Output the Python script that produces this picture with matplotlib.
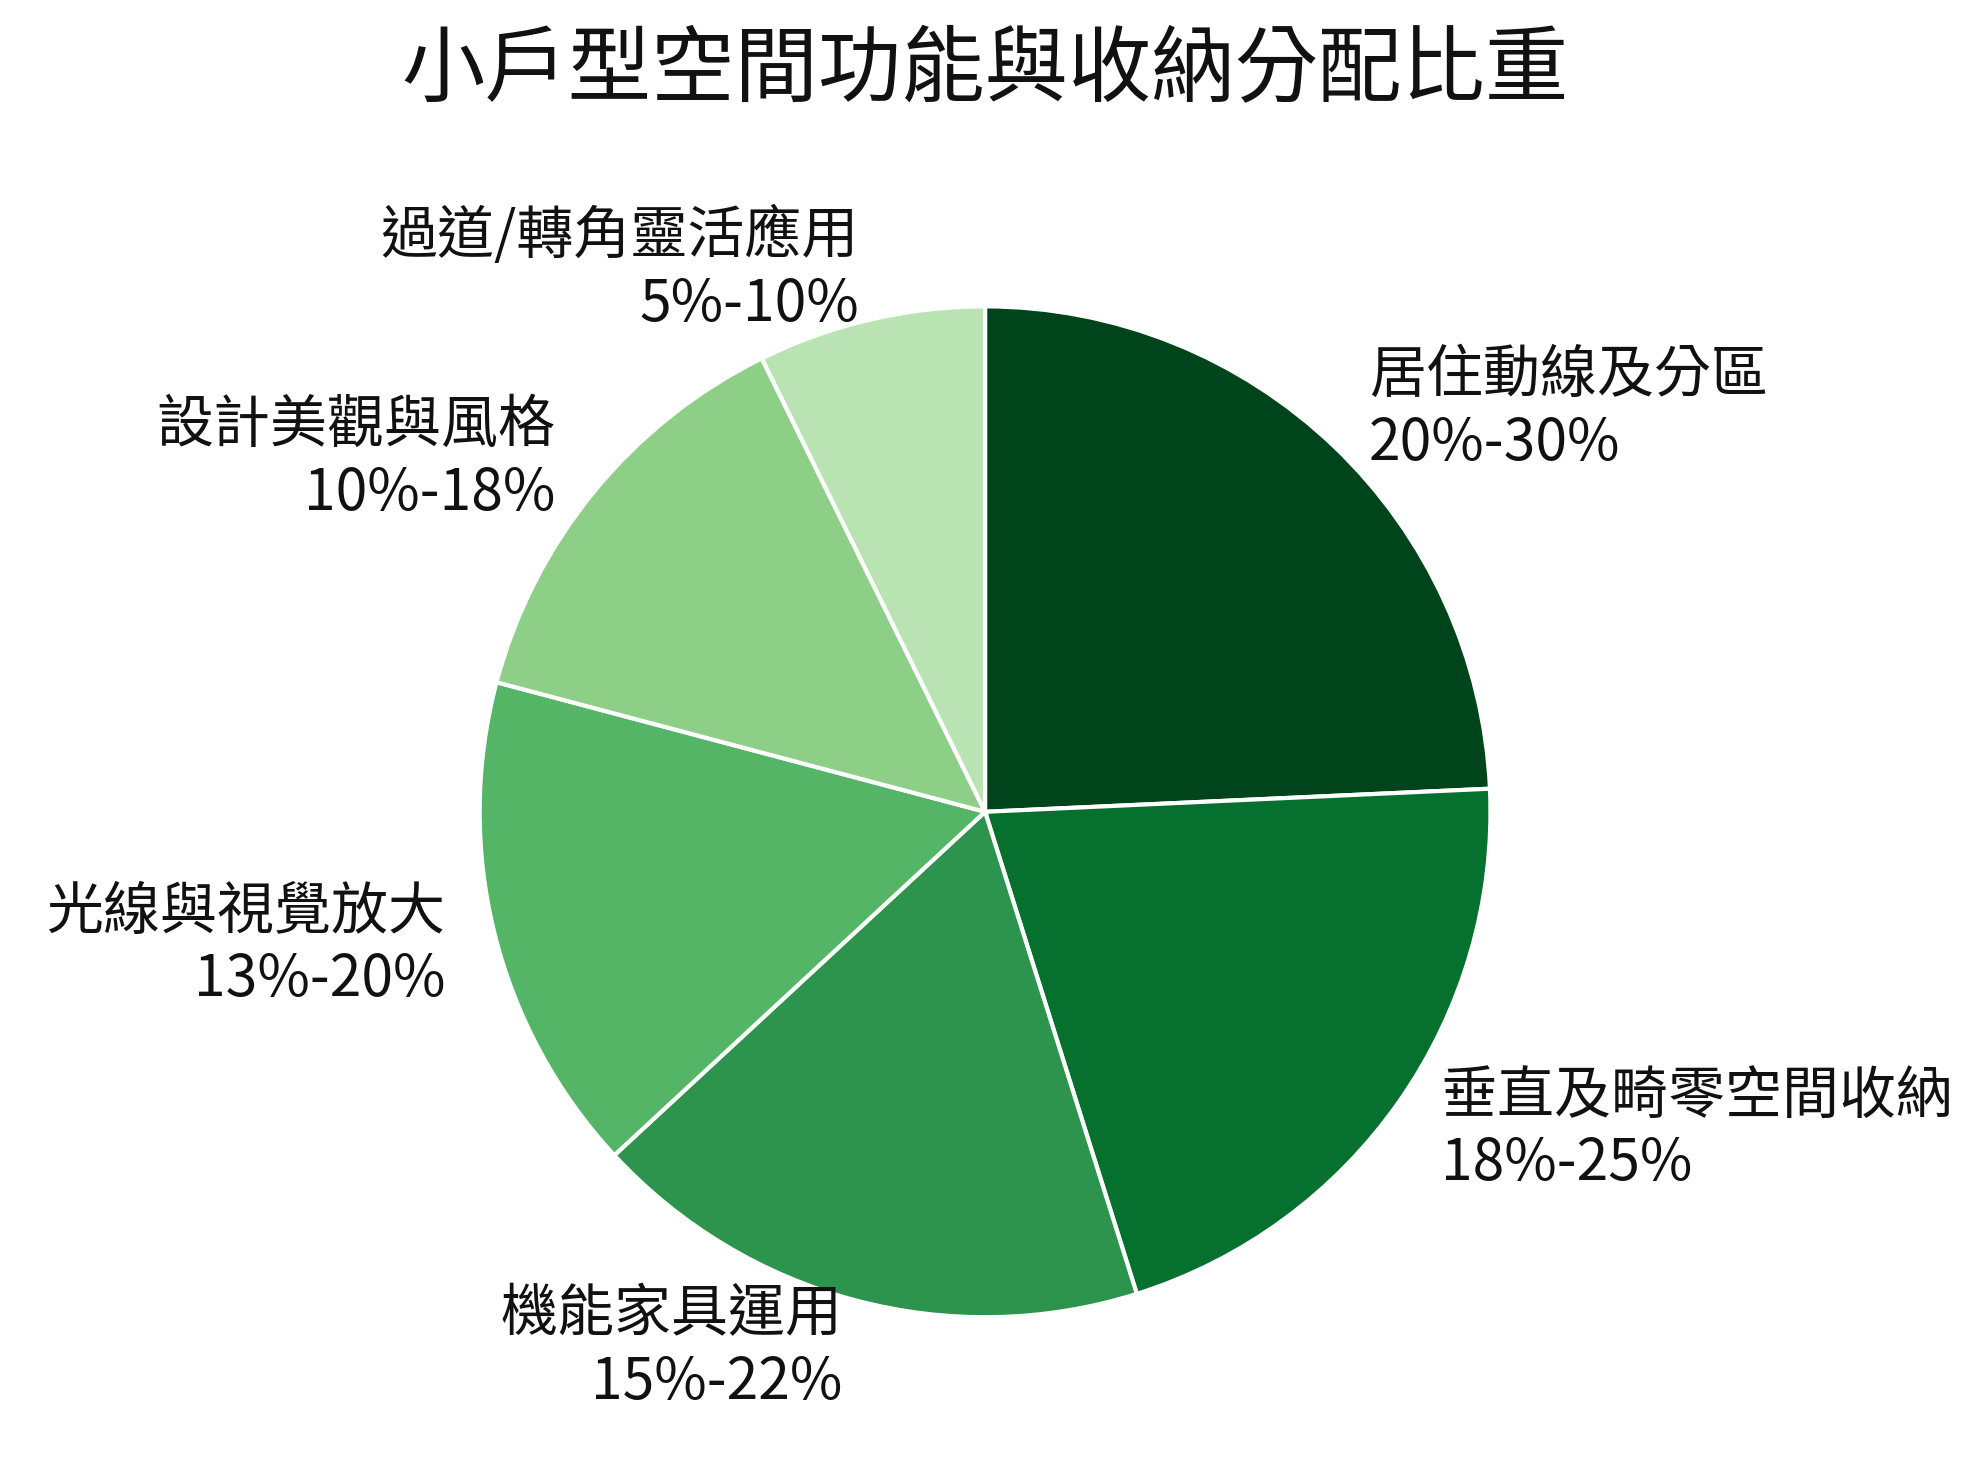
import matplotlib
matplotlib.use("Agg")
import matplotlib.pyplot as plt

plt.rcParams['font.family'] = ['Noto Sans CJK TC', 'DejaVu Sans']

categories = ["居住動線及分區", "垂直及畸零空間收納", "機能家具運用",
              "光線與視覺放大", "設計美觀與風格", "過道/轉角靈活應用"]
ranges = ["20%-30%", "18%-25%", "15%-22%", "13%-20%", "10%-18%", "5%-10%"]
# midpoint of each range
values = [25, 21.5, 18.5, 16.5, 14, 7.5]
colors = ["#00441b", "#06702f", "#2c944c", "#54b567", "#8ecf87", "#b9e3b2"]

fig = plt.figure(figsize=(9.91, 7.34), dpi=200)
ax = fig.add_axes([0.497 - 0.255, 0.447 - 0.345, 0.51, 0.69])

labels = [f"{c}\n{r}" for c, r in zip(categories, ranges)]
wedges, texts = ax.pie(values, labels=labels, colors=colors, startangle=90,
                       counterclock=False, labeldistance=1.1,
                       wedgeprops=dict(edgecolor="white", linewidth=1.5),
                       textprops=dict(fontsize=20.5, color="#111111"))
ax.set_xlim(-1, 1)
ax.set_ylim(-1, 1)

fig.text(0.497, 0.952, "小戶型空間功能與收納分配比重", ha="center", va="center",
         fontsize=30, color="#111111")

fig.savefig("out.png", dpi=200, facecolor="white")
